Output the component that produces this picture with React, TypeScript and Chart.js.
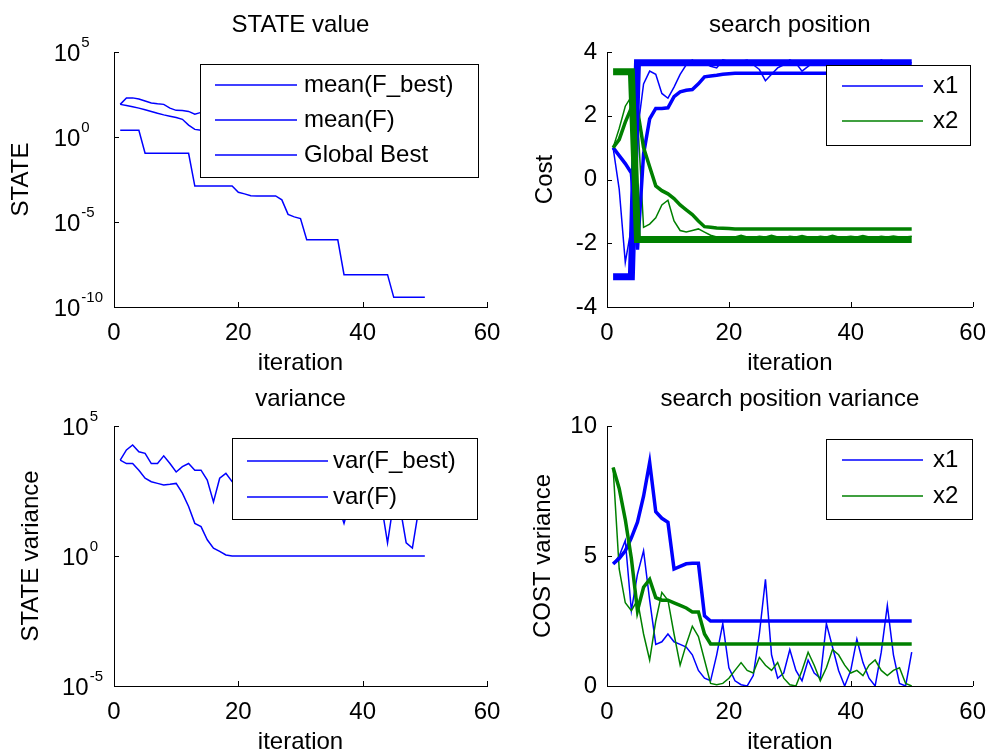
import React, { useEffect, useRef } from "react";
import { Chart, registerables } from "chart.js";

Chart.register(...registerables);

const FONT_FAMILY = "'Liberation Sans', Arial, Helvetica, sans-serif";
const BLUE = "#0000ff";
const GREEN = "#008000";

// ---------- shared axis data ----------
const iterations = [
  1, 2, 3, 4, 5, 6, 7, 8, 9, 10, 11, 12, 13, 14, 15, 16, 17, 18, 19, 20,
  21, 22, 23, 24, 25, 26, 27, 28, 29, 30, 31, 32, 33, 34, 35, 36, 37, 38, 39, 40,
  41, 42, 43, 44, 45, 46, 47, 48, 49, 50,
];
const xTickStep = 20;
const stateTickValues = [1e-10, 1e-5, 1e0, 1e5];
const varianceTickValues = [1e-5, 1e0, 1e5];

// ---------- STATE value (top-left) ----------
const meanFBest = [
  83, 71, 60, 50, 40, 32, 25, 20, 16.6, 14,
  11, 5, 2.8, 2.5, 2.2, 2.0, 1.8, 1.6, 1.5, 1.4,
  1.3, 1.2, 1.1, 1.05, 1.0, 0.95, 0.9, 0.85, 0.8, 0.78,
  0.75, 0.72, 0.7, 0.68, 0.66, 0.64, 0.62, 0.6, 0.58, 0.56,
  0.55, 0.54, 0.53, 0.52, 0.51, 0.5, 0.5, 0.49, 0.49, 0.48,
];
const meanF = [
  83, 200, 200, 170, 130, 100, 90, 83, 50, 37,
  36, 32, 22, 28, 25, 20, 22, 16, 13, 14,
  10, 11, 9, 8, 9, 7, 6, 7, 5, 5.5,
  4.5, 5, 4, 4.2, 3.8, 3.5, 4, 3.2, 3.4, 3,
  3.1, 2.8, 3, 2.6, 2.7, 2.5, 2.6, 2.4, 2.3, 2.4,
];
const globalBest = [
  2.5, 2.5, 2.5, 2.5, 0.11, 0.11, 0.11, 0.11, 0.11, 0.11,
  0.11, 0.11, 1.3e-3, 1.3e-3, 1.3e-3, 1.3e-3, 1.3e-3, 1.3e-3, 1.3e-3, 5.6e-4,
  4.5e-4, 3.5e-4, 3.4e-4, 3.4e-4, 3.4e-4, 3.4e-4, 2.0e-4, 2.8e-5, 2.0e-5, 1.6e-5,
  9e-7, 9e-7, 9e-7, 9e-7, 9e-7, 9e-7, 8e-9, 8e-9, 8e-9, 8e-9,
  8e-9, 8e-9, 8e-9, 8e-9, 3.7e-10, 3.7e-10, 3.7e-10, 3.7e-10, 3.7e-10, 3.7e-10,
];

// ---------- search position (top-right) ----------
const meanPosX1 = [
  1.0, -0.3, -2.6, -1.5, 1.5, 3.0, 3.4, 3.3, 2.7, 2.55,
  2.9, 3.3, 3.6, 3.75, 3.6, 3.65, 3.55, 3.5, 3.75, 3.7,
  3.6, 3.7, 3.75, 3.6, 3.45, 3.1, 3.3, 3.5, 3.6, 3.75,
  3.65, 3.4, 3.55, 3.7, 3.6, 3.65, 3.7, 3.6, 3.65, 3.7,
  3.6, 3.65, 3.7, 3.6, 3.75, 3.65, 3.6, 3.7, 3.65, 3.66,
];
const meanPosX2 = [
  1.0, 1.6, 2.3, 2.6, 2.0, -1.5, -1.4, -1.2, -0.8, -0.65,
  -1.3, -1.6, -1.65, -1.6, -1.55, -1.65, -1.75, -1.8, -1.85, -1.85,
  -1.8, -1.75, -1.8, -1.82, -1.78, -1.8, -1.75, -1.8, -1.83, -1.78,
  -1.8, -1.76, -1.8, -1.82, -1.78, -1.8, -1.75, -1.8, -1.8, -1.78,
  -1.8, -1.76, -1.8, -1.82, -1.78, -1.8, -1.77, -1.8, -1.8, -1.78,
];
const bestPosX1 = [
  1.0, 0.75, 0.5, 0.2, -2.2, 0.8, 1.9, 2.23, 2.23, 2.25,
  2.6, 2.75, 2.8, 2.82, 3.0, 3.22, 3.25, 3.27, 3.3, 3.32,
  3.33, 3.33, 3.33, 3.33, 3.33, 3.33, 3.33, 3.33, 3.33, 3.33,
  3.33, 3.33, 3.33, 3.33, 3.33, 3.33, 3.33, 3.33, 3.33, 3.33,
  3.33, 3.33, 3.33, 3.33, 3.33, 3.33, 3.33, 3.33, 3.33, 3.33,
];
const bestPosX2 = [
  1.0, 1.25, 1.8, 2.25, 2.2, 1.0, 0.4, -0.2, -0.35, -0.45,
  -0.6, -0.8, -0.95, -1.1, -1.3, -1.48, -1.5, -1.52, -1.53, -1.54,
  -1.55, -1.55, -1.55, -1.55, -1.55, -1.55, -1.55, -1.55, -1.55, -1.55,
  -1.55, -1.55, -1.55, -1.55, -1.55, -1.55, -1.55, -1.55, -1.55, -1.55,
  -1.55, -1.55, -1.55, -1.55, -1.55, -1.55, -1.55, -1.55, -1.55, -1.55,
];
const globalPosX1 = [
  -3.05, -3.05, -3.05, -3.05, 3.66, 3.66, 3.66, 3.66, 3.66, 3.66,
  3.66, 3.66, 3.66, 3.66, 3.66, 3.66, 3.66, 3.66, 3.66, 3.66,
  3.66, 3.66, 3.66, 3.66, 3.66, 3.66, 3.66, 3.66, 3.66, 3.66,
  3.66, 3.66, 3.66, 3.66, 3.66, 3.66, 3.66, 3.66, 3.66, 3.66,
  3.66, 3.66, 3.66, 3.66, 3.66, 3.66, 3.66, 3.66, 3.66, 3.66,
];
const globalPosX2 = [
  3.38, 3.38, 3.38, 3.38, -1.88, -1.88, -1.88, -1.88, -1.88, -1.88,
  -1.88, -1.88, -1.88, -1.88, -1.88, -1.88, -1.88, -1.88, -1.88, -1.88,
  -1.88, -1.88, -1.88, -1.88, -1.88, -1.88, -1.88, -1.88, -1.88, -1.88,
  -1.88, -1.88, -1.88, -1.88, -1.88, -1.88, -1.88, -1.88, -1.88, -1.88,
  -1.88, -1.88, -1.88, -1.88, -1.88, -1.88, -1.88, -1.88, -1.88, -1.88,
];

// ---------- variance (bottom-left) ----------
const varFBest = [
  4900, 3600, 3600, 2000, 980, 720, 620, 540, 575, 620,
  260, 80, 18, 13.5, 4.2, 2.0, 1.5, 1.1, 1, 1,
  1, 1, 1, 1, 1, 1, 1, 1, 1, 1,
  1, 1, 1, 1, 1, 1, 1, 1, 1, 1,
  1, 1, 1, 1, 1, 1, 1, 1, 1, 1,
];
const varF = [
  4900, 12000, 18600, 10200, 8900, 3600, 3600, 7100, 3600, 1700,
  2750, 3600, 2000, 2000, 830, 120, 980, 1500, 720, 630,
  320, 800, 500, 250, 400, 200, 500, 160, 320, 250,
  400, 126, 250, 160, 320, 100, 18, 126, 200, 100,
  250, 160, 100, 3.2, 126, 80, 3.2, 2.0, 60, 200,
];

// ---------- search position variance (bottom-right) ----------
const meanVarX1 = [
  4.7, 5.0, 5.6, 2.9, 4.3, 5.2, 3.3, 1.6, 1.7, 2.0,
  1.7, 1.6, 1.5, 1.2, 0.6, 0.3, 0.2, 1.2, 2.4, 0.7,
  0.2, 0.05, 0.0, 0.4, 2.0, 4.1, 1.2, 0.3, 0.5, 1.4,
  0.6, 0.2, 1.0, 0.5, 0.3, 2.4, 1.5, 0.6, 0.0, 0.6,
  1.8, 0.9, 0.3, 0.0, 1.3, 3.1, 1.2, 0.1, 0.0, 1.3,
];
const meanVarX2 = [
  8.4, 4.5, 3.2, 2.9, 3.3, 2.0, 1.0, 2.5, 3.6, 3.3,
  2.0, 0.8, 1.6, 2.3, 1.9, 1.0, 0.1, 0.05, 0.1, 0.3,
  0.6, 0.9, 0.6, 0.5, 1.1, 0.8, 0.6, 0.9, 0.3, 0.05,
  0.0, 0.6, 1.3, 0.8, 0.2, 0.7, 1.4, 1.2, 0.8, 0.5,
  0.6, 0.4, 0.8, 1.0, 0.6, 0.4, 0.6, 0.7, 0.1, 0.0,
];
const bestVarX1 = [
  4.7, 4.9, 5.2, 5.7, 6.3, 7.3, 8.6, 6.7, 6.45, 6.3,
  4.5, 4.6, 4.7, 4.72, 4.72, 2.7, 2.5, 2.5, 2.5, 2.5,
  2.5, 2.5, 2.5, 2.5, 2.5, 2.5, 2.5, 2.5, 2.5, 2.5,
  2.5, 2.5, 2.5, 2.5, 2.5, 2.5, 2.5, 2.5, 2.5, 2.5,
  2.5, 2.5, 2.5, 2.5, 2.5, 2.5, 2.5, 2.5, 2.5, 2.5,
];
const bestVarX2 = [
  8.4, 7.6, 6.4, 4.9, 2.9, 3.8, 4.1, 3.4, 3.3, 3.3,
  3.2, 3.1, 3.0, 2.85, 2.85, 2.0, 1.62, 1.62, 1.62, 1.62,
  1.62, 1.62, 1.62, 1.62, 1.62, 1.62, 1.62, 1.62, 1.62, 1.62,
  1.62, 1.62, 1.62, 1.62, 1.62, 1.62, 1.62, 1.62, 1.62, 1.62,
  1.62, 1.62, 1.62, 1.62, 1.62, 1.62, 1.62, 1.62, 1.62, 1.62,
];

// ---------- panel layout / styling ----------
type Series = { label: string; data: number[]; color: string; width: number; inLegend: boolean };
type LegendSpec = { x: number; y: number; w: number; h: number; lineX: number; lineLen: number; textX: number; rowY: number[] };
type PanelSpec = {
  key: string;
  title: string;
  yTitle: string;
  area: { left: number; top: number; right: number; bottom: number };
  yTitleCenter: number;
  y: { type: "linear" | "logarithmic"; min: number; max: number; step?: number; logTicks?: number[] };
  series: Series[];
  legend: LegendSpec;
};

const panels: PanelSpec[] = [
  {
    key: "state",
    title: "STATE value",
    yTitle: "STATE",
    area: { left: 114, top: 52, right: 487, bottom: 307 },
    yTitleCenter: 21,
    y: { type: "logarithmic", min: 1e-10, max: 1e5, logTicks: stateTickValues },
    series: [
      { label: "mean(F_best)", data: meanFBest, color: BLUE, width: 1.5, inLegend: true },
      { label: "mean(F)", data: meanF, color: BLUE, width: 1.5, inLegend: true },
      { label: "Global Best", data: globalBest, color: BLUE, width: 1.5, inLegend: true },
    ],
    legend: { x: 200, y: 64, w: 278, h: 113, lineX: 215, lineLen: 82, textX: 304, rowY: [85, 120, 155] },
  },
  {
    key: "position",
    title: "search position",
    yTitle: "Cost",
    area: { left: 607, top: 52, right: 978, bottom: 307 },
    yTitleCenter: 545,
    y: { type: "linear", min: -4, max: 4, step: 2 },
    series: [
      { label: "x1", data: meanPosX1, color: BLUE, width: 1.5, inLegend: true },
      { label: "x2", data: meanPosX2, color: GREEN, width: 1.5, inLegend: true },
      { label: "best x1", data: bestPosX1, color: BLUE, width: 3.5, inLegend: false },
      { label: "best x2", data: bestPosX2, color: GREEN, width: 3.5, inLegend: false },
      { label: "global x1", data: globalPosX1, color: BLUE, width: 7, inLegend: false },
      { label: "global x2", data: globalPosX2, color: GREEN, width: 7, inLegend: false },
    ],
    legend: { x: 826, y: 65, w: 144, h: 80, lineX: 842, lineLen: 81, textX: 933, rowY: [86, 121] },
  },
  {
    key: "variance",
    title: "variance",
    yTitle: "STATE variance",
    area: { left: 114, top: 426, right: 487, bottom: 686 },
    yTitleCenter: 31,
    y: { type: "logarithmic", min: 1e-5, max: 1e5, logTicks: varianceTickValues },
    series: [
      { label: "var(F_best)", data: varFBest, color: BLUE, width: 1.5, inLegend: true },
      { label: "var(F)", data: varF, color: BLUE, width: 1.5, inLegend: true },
    ],
    legend: { x: 232, y: 438, w: 245, h: 81, lineX: 247, lineLen: 81, textX: 333, rowY: [461, 497] },
  },
  {
    key: "posvar",
    title: "search position variance",
    yTitle: "COST variance",
    area: { left: 607, top: 426, right: 978, bottom: 686 },
    yTitleCenter: 543,
    y: { type: "linear", min: 0, max: 10, step: 5 },
    series: [
      { label: "x1", data: meanVarX1, color: BLUE, width: 1.5, inLegend: true },
      { label: "x2", data: meanVarX2, color: GREEN, width: 1.5, inLegend: true },
      { label: "best x1", data: bestVarX1, color: BLUE, width: 3.5, inLegend: false },
      { label: "best x2", data: bestVarX2, color: GREEN, width: 3.5, inLegend: false },
    ],
    legend: { x: 826, y: 439, w: 146, h: 80, lineX: 842, lineLen: 81, textX: 933, rowY: [460, 496] },
  },
];

const FONT_SIZE = 24;
const SUP_SIZE = 15;
const LINE_H = FONT_SIZE * 1.2;
const X_AXIS_H = 71;
const CANVAS_W = 998;
const CANVAS_H = 753;

const decorPlugin = {
  id: "matlabDecor",
  afterDraw(chart: any, _args: any, opts: any) {
    const { ctx, chartArea: ca } = chart;
    const xs = chart.scales.x;
    const ys = chart.scales.y;
    const spec: PanelSpec = opts.spec;
    ctx.save();
    // inward tick marks
    ctx.strokeStyle = "#000";
    ctx.lineWidth = 1;
    ctx.beginPath();
    xs.ticks.forEach((t: any) => {
      const px = Math.round(xs.getPixelForValue(t.value)) + 0.5;
      ctx.moveTo(px, ca.bottom);
      ctx.lineTo(px, ca.bottom - 5);
    });
    ys.ticks.forEach((t: any) => {
      const py = Math.round(ys.getPixelForValue(t.value)) + 0.5;
      ctx.moveTo(ca.left, py);
      ctx.lineTo(ca.left + 5, py);
    });
    ctx.stroke();

    // title
    ctx.fillStyle = "#000";
    ctx.font = `${FONT_SIZE}px ${FONT_FAMILY}`;
    ctx.textAlign = "center";
    ctx.textBaseline = "alphabetic";
    ctx.fillText(spec.title, (ca.left + ca.right) / 2, ca.top - 20);

    // log tick labels: 10 with superscript exponent
    if (spec.y.type === "logarithmic") {
      const items = ys.ticks.map((t: any) => ({
        y: ys.getPixelForValue(t.value),
        exp: String(Math.round(Math.log10(t.value))),
      }));
      ctx.font = `${FONT_SIZE}px ${FONT_FAMILY}`;
      const wBase = ctx.measureText("10").width;
      ctx.font = `${SUP_SIZE}px ${FONT_FAMILY}`;
      let maxExp = 0;
      items.forEach((it: any) => {
        maxExp = Math.max(maxExp, ctx.measureText(it.exp).width);
      });
      const left = ca.left - 11 - wBase - 1 - maxExp;
      items.forEach((it: any) => {
        ctx.textAlign = "left";
        ctx.font = `${FONT_SIZE}px ${FONT_FAMILY}`;
        ctx.textBaseline = "middle";
        ctx.fillText("10", left, it.y + 2);
        ctx.font = `${SUP_SIZE}px ${FONT_FAMILY}`;
        ctx.textBaseline = "alphabetic";
        ctx.fillText(it.exp, left + wBase + 1, it.y - 5);
      });
    }

    // legend box (opaque, on top)
    const lg = spec.legend;
    ctx.fillStyle = "#fff";
    ctx.fillRect(lg.x, lg.y, lg.w, lg.h);
    ctx.strokeStyle = "#000";
    ctx.lineWidth = 1;
    ctx.strokeRect(lg.x + 0.5, lg.y + 0.5, lg.w, lg.h);
    const entries = spec.series.filter((s) => s.inLegend);
    entries.forEach((s, i) => {
      const ry = lg.rowY[i];
      ctx.strokeStyle = s.color;
      ctx.lineWidth = s.width;
      ctx.beginPath();
      ctx.moveTo(lg.lineX, ry);
      ctx.lineTo(lg.lineX + lg.lineLen, ry);
      ctx.stroke();
      ctx.fillStyle = "#000";
      ctx.font = `${FONT_SIZE}px ${FONT_FAMILY}`;
      ctx.textAlign = "left";
      ctx.textBaseline = "middle";
      ctx.fillText(s.label, lg.textX, ry);
    });
    ctx.restore();
  },
};

function buildConfig(p: PanelSpec): any {
  const yAxisW = p.area.left - p.yTitleCenter + LINE_H / 2;
  const n = p.series.length;
  const datasets = p.series.map((s, i) => ({
    label: s.label,
    data: iterations.map((x, j) => ({ x, y: s.data[j] })),
    borderColor: s.color,
    backgroundColor: s.color,
    borderWidth: s.width,
    pointRadius: 0,
    tension: 0,
    fill: false,
    order: n - i,
  }));
  const isLog = p.y.type === "logarithmic";
  const tickFont = { size: FONT_SIZE, lineHeight: 1.2, family: FONT_FAMILY };
  const yScale: any = {
    type: p.y.type,
    min: p.y.min,
    max: p.y.max,
    grid: { display: false, drawTicks: false },
    border: { display: true, color: "#000", width: 1 },
    title: { display: true, text: p.yTitle, color: "#000", font: tickFont, padding: 0 },
    afterFit: (s: any) => {
      s.width = yAxisW;
    },
  };
  if (isLog) {
    yScale.ticks = { display: false };
    yScale.afterBuildTicks = (s: any) => {
      s.ticks = (p.y.logTicks || []).map((v) => ({ value: v }));
    };
  } else {
    yScale.ticks = { color: "#000", font: tickFont, padding: 10, stepSize: p.y.step, autoSkip: false };
  }
  return {
    type: "line",
    data: { datasets },
    options: {
      animation: false,
      responsive: false,
      events: [],
      layout: {
        padding: {
          left: p.area.left - yAxisW,
          top: p.area.top,
          right: CANVAS_W - p.area.right,
          bottom: CANVAS_H - p.area.bottom - X_AXIS_H,
        },
      },
      scales: {
        x: {
          type: "linear",
          min: 0,
          max: 60,
          grid: { display: false, drawTicks: false },
          border: { display: true, color: "#000", width: 1 },
          ticks: { color: "#000", font: tickFont, padding: 12, stepSize: xTickStep, maxRotation: 0, autoSkip: false },
          title: { display: true, text: "iteration", color: "#000", font: tickFont, padding: 0 },
          afterFit: (s: any) => {
            s.height = X_AXIS_H;
          },
        },
        y: yScale,
      },
      plugins: {
        legend: { display: false },
        tooltip: { enabled: false },
        title: { display: false },
        matlabDecor: { spec: p },
      },
    },
    plugins: [decorPlugin],
  };
}

export default function App() {
  const canvases = useRef<(HTMLCanvasElement | null)[]>([]);
  useEffect(() => {
    Chart.defaults.font.family = FONT_FAMILY;
    Chart.defaults.font.size = FONT_SIZE;
    Chart.defaults.color = "#000";
    const charts = panels.map((p, i) => new Chart(canvases.current[i] as HTMLCanvasElement, buildConfig(p)));
    return () => charts.forEach((c) => c.destroy());
  }, []);
  return (
    <div style={{ position: "fixed", left: 0, top: 0, width: CANVAS_W, height: CANVAS_H, background: "#fff", overflow: "hidden" }}>
      {panels.map((p, i) => (
        <canvas
          key={p.key}
          ref={(el) => {
            canvases.current[i] = el;
          }}
          width={CANVAS_W}
          height={CANVAS_H}
          style={{ position: "absolute", left: 0, top: 0, width: CANVAS_W, height: CANVAS_H }}
        />
      ))}
    </div>
  );
}
